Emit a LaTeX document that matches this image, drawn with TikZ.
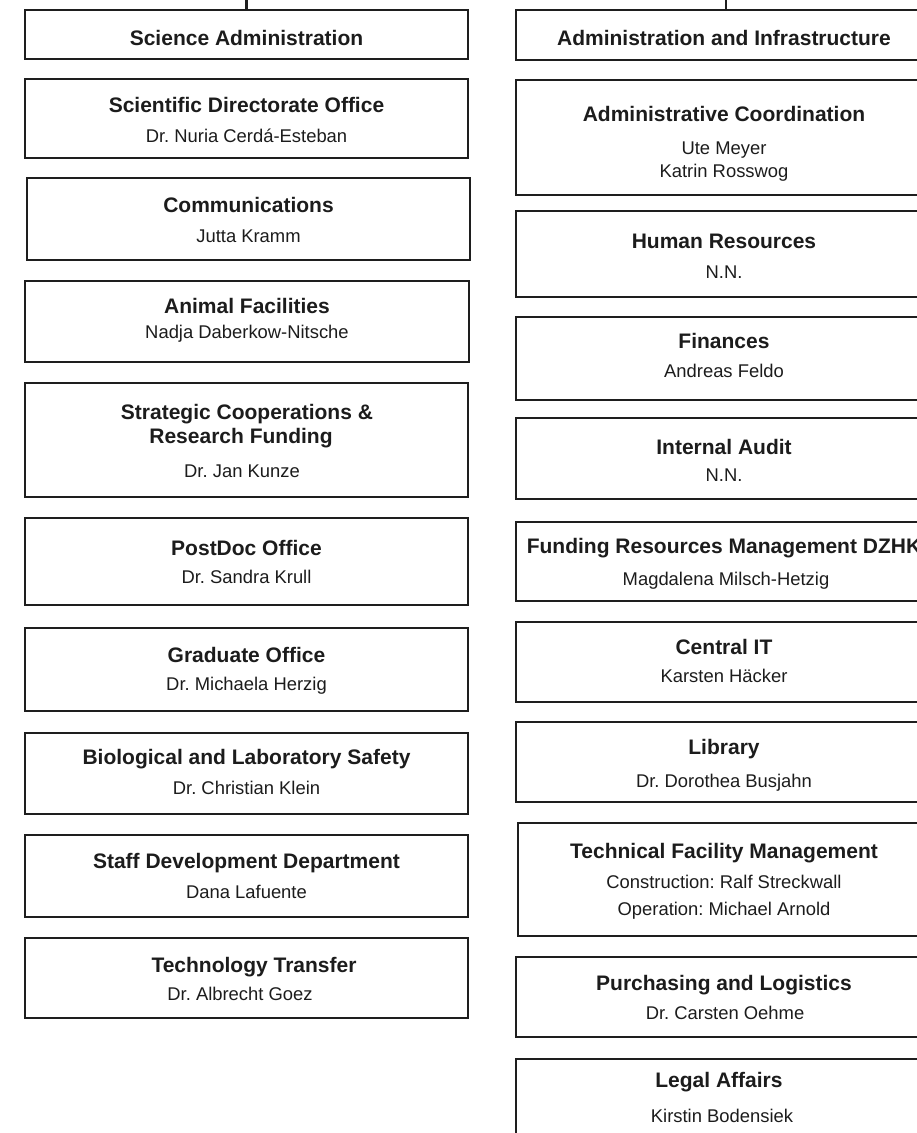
\documentclass[tikz,border=0pt]{standalone}
\usepackage{fontspec}
\setmainfont{Liberation Sans}
\frenchspacing
\definecolor{ink}{RGB}{28,28,28}
\definecolor{edge}{RGB}{30,30,30}
\tikzset{
  obox/.style={draw=edge, line width=2.8pt, rectangle, inner sep=0pt, outer sep=0pt, fill=none},
  ttl/.style={anchor=base, inner sep=0pt, text=ink, font=\fontsize{21}{25}\selectfont\bfseries},
  nm/.style={anchor=base, inner sep=0pt, text=ink, font=\fontsize{18.4}{22}\selectfont},
  link/.style={draw=edge, line width=2.4pt}
}
\begin{document}
\begin{tikzpicture}[x=1pt,y=-1pt]
\useasboundingbox (0,0) rectangle (917,1133);
\fill[white] (0,0) rectangle (917,1133);
\clip (0,0) rectangle (917,1133);

% ---------- left column ----------
\node[obox, minimum width=443pt, minimum height=49pt] (sciadm) at (246.5,34.5) {};
\node[ttl] (sciadm-t) at (246.5,45) {Science Administration};

\node[obox, minimum width=443pt, minimum height=79pt] (scidir) at (246.5,118.5) {};
\node[ttl] (scidir-t) at (246.5,112) {Scientific Directorate Office};
\node[nm] (scidir-p) at (246.5,142) {Dr. Nuria Cerdá-Esteban};

\node[obox, minimum width=443pt, minimum height=82pt] (comm) at (248.5,219) {};
\node[ttl] (comm-t) at (248.5,212) {Communications};
\node[nm] (comm-p) at (248.5,242) {Jutta Kramm};

\node[obox, minimum width=444pt, minimum height=81pt] (animal) at (247,321.5) {};
\node[ttl] (animal-t) at (247,313) {Animal Facilities};
\node[nm] (animal-p) at (247,338) {Nadja Daberkow-Nitsche};

\node[obox, minimum width=443pt, minimum height=114pt] (strat) at (246.5,440) {};
\node[ttl] (strat-t1) at (247,419) {Strategic Cooperations \&};
\node[ttl] (strat-t2) at (241,443) {Research Funding};
\node[nm] (strat-p) at (242,477) {Dr. Jan Kunze};

\node[obox, minimum width=443pt, minimum height=87pt] (postdoc) at (246.5,561.5) {};
\node[ttl] (postdoc-t) at (246.5,555) {PostDoc Office};
\node[nm] (postdoc-p) at (246.5,583) {Dr. Sandra Krull};

\node[obox, minimum width=443pt, minimum height=83pt] (grad) at (246.5,669.5) {};
\node[ttl] (grad-t) at (246.5,662) {Graduate Office};
\node[nm] (grad-p) at (246.5,690) {Dr. Michaela Herzig};

\node[obox, minimum width=443pt, minimum height=81pt] (bio) at (246.5,773.5) {};
\node[ttl] (bio-t) at (246.5,764) {Biological and Laboratory Safety};
\node[nm] (bio-p) at (246.5,794) {Dr. Christian Klein};

\node[obox, minimum width=443pt, minimum height=82pt] (staff) at (246.5,876) {};
\node[ttl] (staff-t) at (246.5,868) {Staff Development Department};
\node[nm] (staff-p) at (246.5,898) {Dana Lafuente};

\node[obox, minimum width=443pt, minimum height=80pt] (tech) at (246.5,978) {};
\node[ttl] (tech-t) at (254,972) {Technology Transfer};
\node[nm] (tech-p) at (240,1000) {Dr. Albrecht Goez};

% ---------- right column ----------
\node[obox, minimum width=416pt, minimum height=50pt] (adminf) at (724,35) {};
\node[ttl] (adminf-t) at (724,45) {Administration and Infrastructure};

\node[obox, minimum width=416pt, minimum height=115pt] (admco) at (724,137.5) {};
\node[ttl] (admco-t) at (724,121) {Administrative Coordination};
\node[nm] (admco-p1) at (724,154) {Ute Meyer};
\node[nm] (admco-p2) at (724,177) {Katrin Rosswog};

\node[obox, minimum width=416pt, minimum height=86pt] (hr) at (724,254) {};
\node[ttl] (hr-t) at (724,248) {Human Resources};
\node[nm] (hr-p) at (724,278) {N.N.};

\node[obox, minimum width=416pt, minimum height=83pt] (fin) at (724,358.5) {};
\node[ttl] (fin-t) at (724,348) {Finances};
\node[nm] (fin-p) at (724,377) {Andreas Feldo};

\node[obox, minimum width=416pt, minimum height=81pt] (audit) at (724,458.5) {};
\node[ttl] (audit-t) at (724,454) {Internal Audit};
\node[nm] (audit-p) at (724,481) {N.N.};

\node[obox, minimum width=416pt, minimum height=79pt] (fund) at (724,561.5) {};
\node[ttl] (fund-t) at (724,553) {Funding Resources Management DZHK};
\node[nm] (fund-p) at (726,585) {Magdalena Milsch-Hetzig};

\node[obox, minimum width=416pt, minimum height=80pt] (it) at (724,662) {};
\node[ttl] (it-t) at (724,654) {Central IT};
\node[nm] (it-p) at (724,682) {Karsten Häcker};

\node[obox, minimum width=416pt, minimum height=80pt] (lib) at (724,762) {};
\node[ttl] (lib-t) at (724,754) {Library};
\node[nm] (lib-p) at (724,787) {Dr. Dorothea Busjahn};

\node[obox, minimum width=414pt, minimum height=113pt] (tfm) at (725,879.5) {};
\node[ttl] (tfm-t) at (724,858) {Technical Facility Management};
\node[nm] (tfm-p1) at (724,888) {Construction: Ralf Streckwall};
\node[nm] (tfm-p2) at (724,915) {Operation: Michael Arnold};

\node[obox, minimum width=416pt, minimum height=80pt] (purch) at (724,997) {};
\node[ttl] (purch-t) at (724,990) {Purchasing and Logistics};
\node[nm] (purch-p) at (725,1019) {Dr. Carsten Oehme};

\node[obox, minimum width=416pt, minimum height=101pt] (legal) at (724,1109.5) {};
\node[ttl] (legal-t) at (719,1087) {Legal Affairs};
\node[nm] (legal-p) at (722,1122) {Kirstin Bodensiek};

% ---------- connectors ----------
\coordinate (topL) at (246.5,-5);
\coordinate (topR) at (726,-5);
\draw[link] (topL) -- (sciadm.north);
\draw[link] (topR) -- (topR |- adminf.north);
\end{tikzpicture}
\end{document}
